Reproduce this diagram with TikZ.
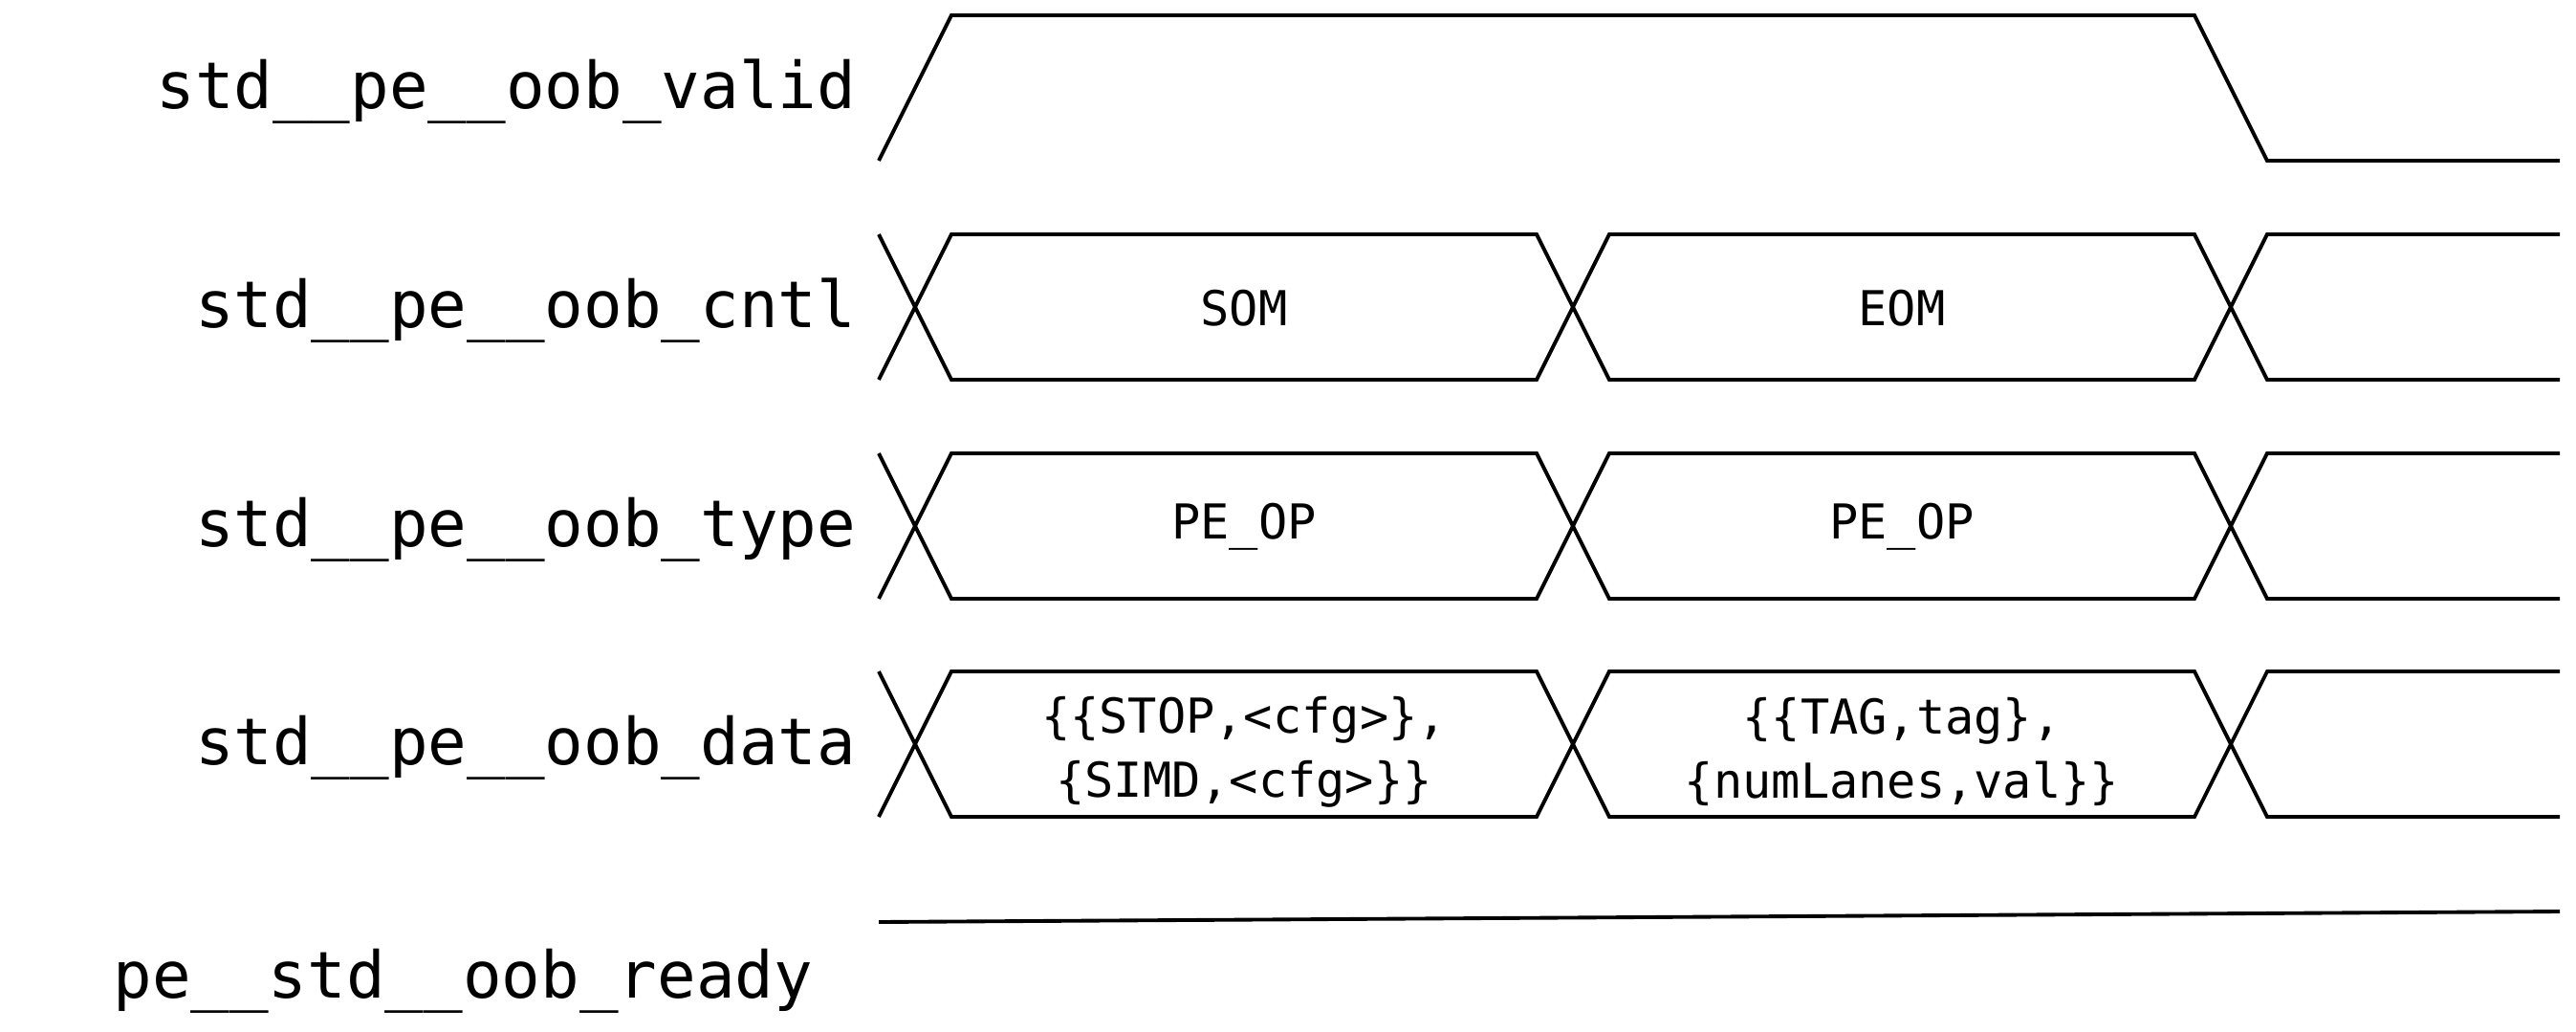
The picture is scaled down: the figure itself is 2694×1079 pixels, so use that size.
\documentclass[tikz,border=0pt]{standalone}
\usepackage{fontspec}
\setmonofont{DejaVu Sans Mono}
\begin{document}
\begin{tikzpicture}[x=0.01cm, y=-0.01cm, line width=1.1pt, line join=miter,
    signame/.style={anchor=east, inner sep=0pt, font=\ttfamily\fontsize{19.2}{23}\selectfont},
    busval/.style={align=center, inner sep=0pt, font=\ttfamily\fontsize{14.3}{19}\selectfont}]
  \useasboundingbox (0,0) rectangle (2694,1079);
  % valid
  \node[signame] (valid) at (897,96) {std\_\_pe\_\_oob\_valid};
  \draw (919,168) -- (995,16) -- (2295,16) -- (2371,168) -- (2677,168);
  % bus rows
  \foreach \y/\name in {321/cntl, 550/type, 778/data} {
      \node[signame] (\name) at (897,\y+4) {std\_\_pe\_\_oob\_\name};
      \draw (919,\y-76) -- (957,\y) -- (919,\y+76);
      \foreach \x in {957, 1645} {\draw (\x,\y) -- (\x+38,\y-76) -- (\x+650,\y-76) -- (\x+688,\y)
                                          -- (\x+650,\y+76) -- (\x+38,\y+76) -- cycle;};
      \draw (2677,\y-76) -- (2371,\y-76) -- (2333,\y) -- (2371,\y+76) -- (2677,\y+76);
  };
  \node[busval] (som) at (1301,322) {SOM};
  \node[busval] (eom) at (1989,322) {EOM};
  \node[busval] (op1) at (1301,551) {PE\_OP};
  \node[busval] (op2) at (1989,551) {PE\_OP};
  \node[busval] (d1) at (1301,786) {\{\{STOP,<cfg>\},\\\{SIMD,<cfg>\}\}};
  \node[busval] (d2) at (1989,786) {\{\{TAG,tag\},\\\{numLanes,val\}\}};
  % ready
  \node[signame] (ready) at (852,1026) {pe\_\_std\_\_oob\_ready};
  \draw (919,964) -- (2677,953);
\end{tikzpicture}
\end{document}
